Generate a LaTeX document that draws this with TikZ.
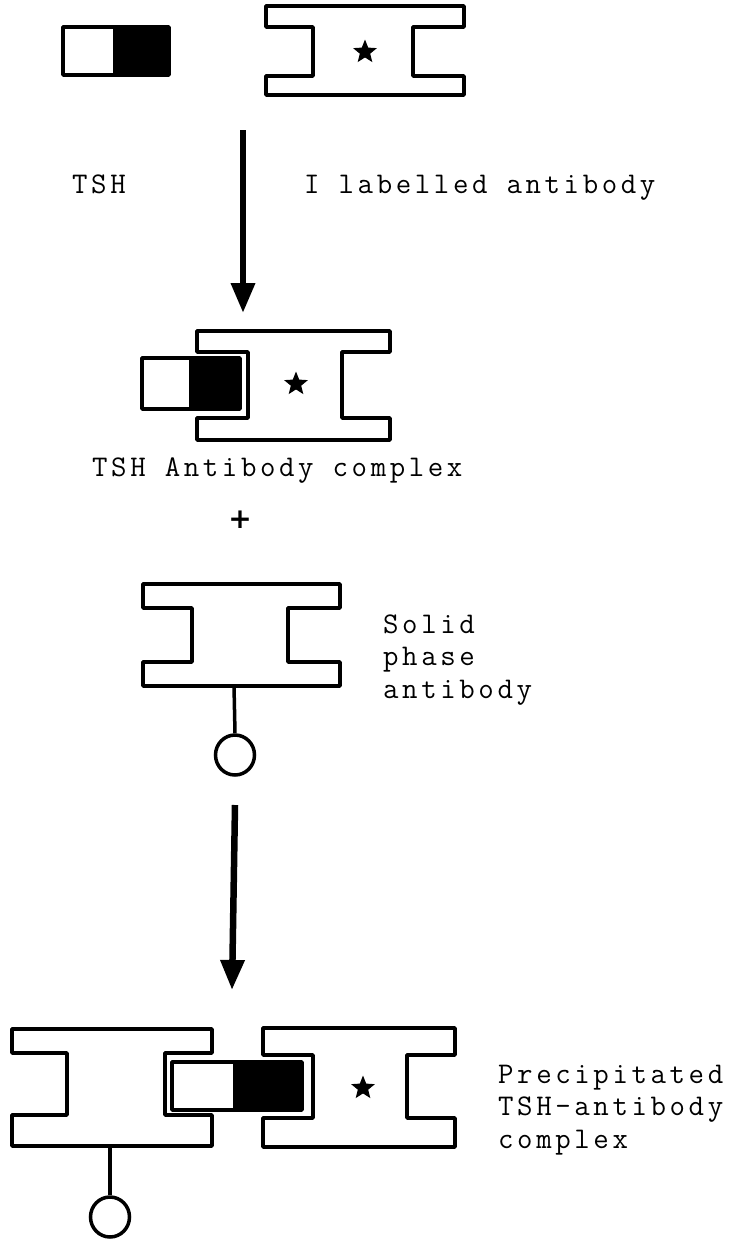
\documentclass[tikz,border=0pt]{standalone}
\usepackage{fontspec}
\usetikzlibrary{arrows.meta,shapes.geometric}
\newfontfamily\tw{Latin Modern Mono}[LetterSpace=12]
\newfontfamily\plusfont{DejaVu Sans}
\newcommand\antibodyshape[8]{%
  \draw[ab] (#1,#3) -- (#2,#3) -- (#2,#5) -- (#8,#5) -- (#8,#6) -- (#2,#6) -- (#2,#4)
    -- (#1,#4) -- (#1,#6) -- (#7,#6) -- (#7,#5) -- (#1,#5) -- cycle;}
\newcommand\tshshape[5]{%
  \fill[tshfill] (#1,#3) rectangle (#5,#4);
  \fill[black] (#2,#3) rectangle (#5,#4);
  \draw[tshline] (#1,#3) rectangle (#5,#4);}
\tikzset{
  ab/.style={line width=3.5pt, fill=white, line join=round},
  tshfill/.style={fill=white},
  tshline/.style={line width=3.5pt, line join=round},
  lbl/.style={font=\tw\fontsize{30}{32.5}\selectfont, inner sep=0pt, align=left, anchor=base west},
  bigarrow/.style={line width=6.5pt, -{Triangle[length=30pt,width=23pt]}},
  starmark/.style={star, star points=5, star point ratio=2.3, fill=black, minimum size=25pt, inner sep=0pt},
  bead/.style={ellipse, draw, line width=3.5pt, minimum width=39pt, minimum height=40pt, inner sep=0pt},
  stem/.style={line width=3.5pt}
}
\begin{document}
\begin{tikzpicture}[x=1pt,y=-1pt]
\useasboundingbox (0,0) rectangle (748,1250);
% --- top row
\tshshape{63}{113}{27}{75}{169}
\antibodyshape{266}{464}{6}{95}{27}{76}{313}{413}
\node[starmark] (star1) at (365,52) {};
\node[lbl] (tshlabel) at (72,193) {TSH};
\node[lbl] (ablabel) at (304,193) {I labelled antibody};
\coordinate (a1s) at (243,130);
\coordinate (a1e) at (243,313);
\draw[bigarrow] (a1s) -- (a1e);
% --- complex
\antibodyshape{197}{390}{331}{440}{352}{418}{248}{342}
\tshshape{142}{189}{358}{409}{240}
\node[starmark] (star2) at (296,384) {};
\node[lbl] (cplxlabel) at (92,476) {TSH Antibody complex};
\node[font=\plusfont\bfseries\fontsize{28}{28}\selectfont, inner sep=0pt] (plus) at (240,520) {+};
% --- solid phase antibody
\antibodyshape{143}{340}{584}{686}{608}{662}{192}{288}
\coordinate (sp) at (234,686);
\node[bead] (bead1) at (235,755) {};
\draw[stem] (sp) -- (bead1.north);
\node[lbl] (splabel) at (383,698) {Solid\\phase\\antibody};
\coordinate (a2s) at (235,805);
\coordinate (a2e) at (232,990);
\draw[bigarrow] (a2s) -- (a2e);
% --- precipitated complex
\antibodyshape{12}{212}{1029}{1146}{1053}{1115}{67}{165}
\antibodyshape{263}{455}{1028}{1147}{1055}{1118}{313}{407}
\tshshape{172}{233}{1062}{1110}{302}
\node[starmark] (star3) at (363,1088) {};
\coordinate (bp) at (110,1146);
\node[bead] (bead2) at (110,1217) {};
\draw[stem] (bp) -- (bead2.north);
\node[lbl] (preclabel) at (498,1148) {Precipitated\\TSH-antibody\\complex};
\end{tikzpicture}
\end{document}
